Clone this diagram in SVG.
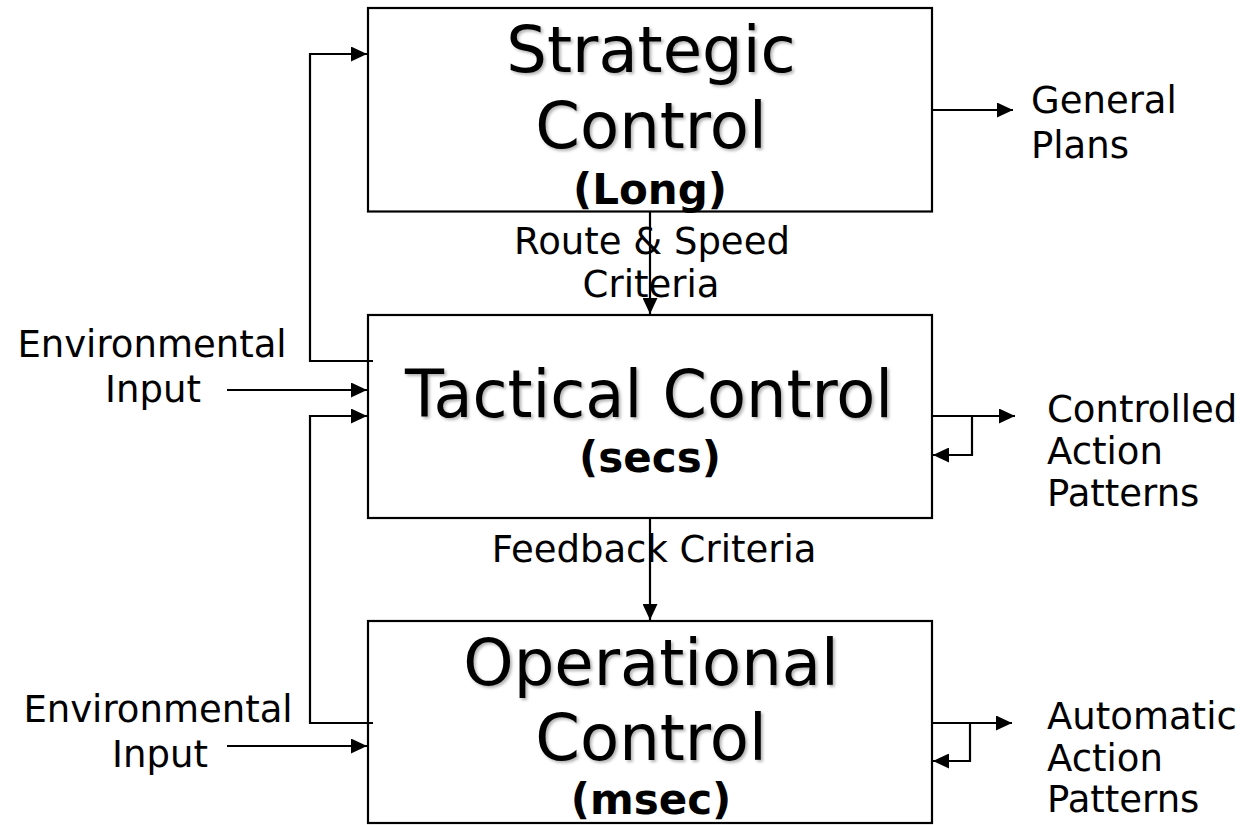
<svg xmlns="http://www.w3.org/2000/svg" width="1243" height="825" viewBox="0 0 1243 825">
<defs>
<marker id="arr" markerUnits="userSpaceOnUse" markerWidth="16" markerHeight="15" viewBox="0 0 16 15" refX="16" refY="7.5" orient="auto">
<path d="M0,0 L16,7.5 L0,15 z" fill="#000"/>
</marker>
<filter id="sh" x="-5%" y="-20%" width="110%" height="140%">
<feDropShadow dx="2" dy="2" stdDeviation="1.5" flood-color="#000" flood-opacity="0.3"/>
</filter>
</defs>
<style>
.box{fill:#fff;stroke:#000;stroke-width:2.2}
.t{font-family:"DejaVu Sans","Verdana",sans-serif;fill:#000}
.big{font-size:64px;text-anchor:middle;filter:url(#sh)}
.bold{font-size:42px;font-weight:bold;text-anchor:middle}
.lbl{font-size:37px}
.mid{text-anchor:middle}
.c{fill:none;stroke:#000;stroke-width:2.2}
</style>
<rect width="1243" height="825" fill="#fff"/>
<g id="strategic">
<rect class="box" x="368" y="8" width="564" height="203.5"/>
<text class="t big" x="651" y="72">Strategic</text>
<text class="t big" x="651" y="148">Control</text>
<text class="t bold" x="650" y="204">(Long)</text>
</g>
<g id="tactical">
<rect class="box" x="368" y="315" width="564" height="203"/>
<text class="t big" x="649" y="417" style="font-size:66px" textLength="488" lengthAdjust="spacingAndGlyphs">Tactical Control</text>
<text class="t bold" x="650" y="472">(secs)</text>
</g>
<g id="operational">
<rect class="box" x="368" y="621" width="564" height="202"/>
<text class="t big" x="651" y="685">Operational</text>
<text class="t big" x="651" y="760">Control</text>
<text class="t bold" x="651" y="814">(msec)</text>
</g>
<g id="labels">
<text class="t lbl mid" x="652" y="254">Route &amp; Speed</text>
<text class="t lbl mid" x="651" y="297">Criteria</text>
<text class="t lbl mid" x="654" y="562">Feedback Criteria</text>
<text class="t lbl mid" x="152" y="357">Environmental</text>
<text class="t lbl mid" x="153" y="402">Input</text>
<text class="t lbl mid" x="158" y="722">Environmental</text>
<text class="t lbl mid" x="160" y="767">Input</text>
<text class="t lbl" x="1031" y="113">General</text>
<text class="t lbl" x="1031" y="158">Plans</text>
<text class="t lbl" x="1047" y="422">Controlled</text>
<text class="t lbl" x="1047" y="464">Action</text>
<text class="t lbl" x="1047" y="506">Patterns</text>
<text class="t lbl" x="1047" y="729">Automatic</text>
<text class="t lbl" x="1047" y="771">Action</text>
<text class="t lbl" x="1047" y="812">Patterns</text>
</g>
<g id="connectors">
<path class="c" d="M650,212 V314" marker-end="url(#arr)"/>
<path class="c" d="M650,519 V620" marker-end="url(#arr)"/>
<path class="c" d="M933,110 H1013" marker-end="url(#arr)"/>
<path class="c" d="M933,416 H1015" marker-end="url(#arr)"/>
<path class="c" d="M972,416 V455 H933" marker-end="url(#arr)"/>
<path class="c" d="M933,723 H1012" marker-end="url(#arr)"/>
<path class="c" d="M970,723 V761 H933" marker-end="url(#arr)"/>
<path class="c" d="M373,361 H310 V54 H367" marker-end="url(#arr)"/>
<path class="c" d="M227,390 H367" marker-end="url(#arr)"/>
<path class="c" d="M373,723 H310 V416 H367" marker-end="url(#arr)"/>
<path class="c" d="M227,746 H367" marker-end="url(#arr)"/>
</g>
</svg>
